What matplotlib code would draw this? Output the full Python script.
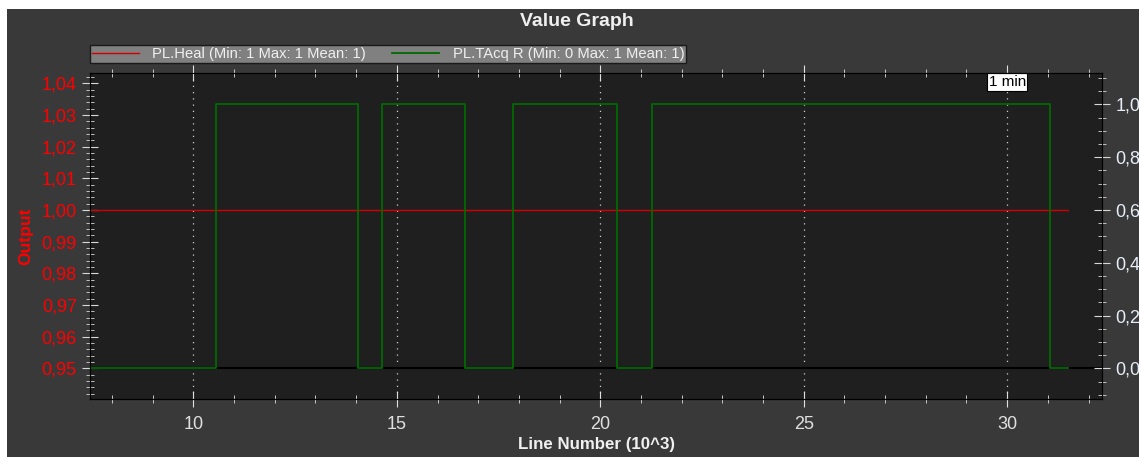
import matplotlib.pyplot as plt
import matplotlib.ticker as ticker
from matplotlib.patches import Rectangle

plt.rcParams['font.family'] = ['Liberation Sans', 'DejaVu Sans']

# line numbers in thousands
heal_x = [7.46, 31.50]
heal_val = [1, 1]

tacq_x = [7.46, 10.56, 14.05, 14.64, 16.67, 17.86, 20.41, 21.26, 31.05, 31.50]
tacq_val = [0, 1, 0, 1, 0, 1, 0, 1, 0, 0]

heal_label = "PL.Heal (Min: 1 Max: 1 Mean: 1)"
tacq_label = "PL.TAcq R (Min: 0 Max: 1 Mean: 1)"

W, H = 1139, 457
fig = plt.figure(figsize=(W / 100, H / 100), dpi=100)
fig.patch.set_facecolor('white')
fig.add_artist(Rectangle((7 / W, 0), 1 - 7 / W, 1 - 9 / H, transform=fig.transFigure,
                         facecolor='#393939', edgecolor='none', zorder=-10))

ax = fig.add_axes([90 / W, 1 - 399 / H, (1102 - 90) / W, (399 - 73) / H])
ax.set_facecolor('#1f1f1f')
ax2 = ax.twinx()

comma = lambda fmt: ticker.FuncFormatter(lambda v, p: format(v, fmt).replace('.', ','))

# left axis: PL.Heal
l1, = ax.plot(heal_x, heal_val, color='#d40000', lw=1.0, zorder=3)
ax.set_ylim(0.9403, 1.0433)
ax.yaxis.set_major_locator(ticker.MultipleLocator(0.01))
ax.yaxis.set_minor_locator(ticker.MultipleLocator(0.002))
ax.yaxis.set_major_formatter(comma('.2f'))
ax.set_ylabel('Output', color='red', fontsize=12.5, fontweight='bold', labelpad=6)

# right axis: PL.TAcq R
ax2.axhline(0, color='black', lw=1.5, zorder=1)
l2, = ax2.plot(tacq_x, tacq_val, color='#006a00', lw=1.3, drawstyle='steps-post', zorder=2)
ax2.set_ylim(-0.116, 1.119)
ax2.yaxis.set_major_locator(ticker.MultipleLocator(0.2))
ax2.yaxis.set_minor_locator(ticker.MultipleLocator(0.05))
ax2.yaxis.set_major_formatter(comma('.1f'))

ax.set_xlim(7.46, 32.33)
ax.xaxis.set_major_locator(ticker.MultipleLocator(5))
ax.xaxis.set_minor_locator(ticker.MultipleLocator(1))
ax.grid(axis='x', which='major', color='#d0d0d0', linestyle=(0, (1, 4)), lw=0.9)
ax.set_xlabel('Line Number (10^3)', color='#f0f0f0', fontsize=12.2, fontweight='bold', labelpad=3)

for a in (ax, ax2):
    for s in a.spines.values():
        s.set_color('black')
ax.tick_params(axis='x', which='both', direction='inout', colors='#e0e0e0',
               labelsize=13, top=True, pad=6)
ax.tick_params(axis='x', which='major', length=12)
ax.tick_params(axis='x', which='minor', length=6)
ax.tick_params(axis='y', which='both', direction='inout', color='#d8d8d8',
               labelcolor='red', labelsize=13)
ax.tick_params(axis='y', which='major', length=12)
ax.tick_params(axis='y', which='minor', length=6)
ax2.tick_params(axis='y', which='both', direction='inout', color='#d8d8d8',
                labelcolor='#e8eef8', labelsize=13)
ax2.tick_params(axis='y', which='major', length=12)
ax2.tick_params(axis='y', which='minor', length=6)

ax.text(30, 1.0433 - 0.0006, '1 min', ha='center', va='top', fontsize=11, color='black',
        bbox=dict(facecolor='white', edgecolor='black', lw=0.8, pad=1.2), zorder=5)

fig.text(577 / W, 1 - 22 / H, 'Value Graph', ha='center', va='center',
         fontsize=14, fontweight='bold', color='#f0f0f0')

leg = fig.legend([l1, l2], [heal_label, tacq_label], loc='upper left', ncol=2,
                 bbox_to_anchor=(90 / W, 1 - 45 / H), fontsize=10.6, frameon=True,
                 fancybox=False, borderpad=0.12, handlelength=3.2, handletextpad=0.9,
                 columnspacing=1.8, borderaxespad=0)
leg.get_frame().set_facecolor('#808080')
leg.get_frame().set_edgecolor('#1a1a1a')
leg.get_frame().set_alpha(1)
for t in leg.get_texts():
    t.set_color('#f0f0f0')

fig.savefig('out.png', dpi=100, facecolor=fig.get_facecolor())
